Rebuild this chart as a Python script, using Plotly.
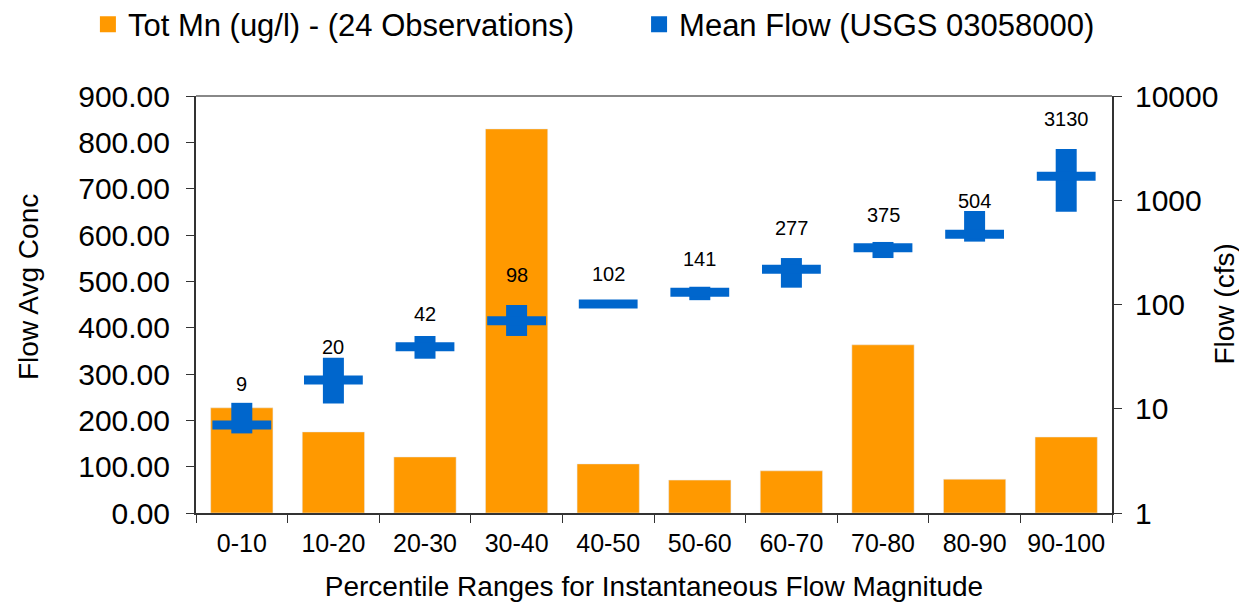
import math
import plotly.graph_objects as go

categories = ["0-10", "10-20", "20-30", "30-40", "40-50", "50-60", "60-70", "70-80", "80-90", "90-100"]
mn_conc = [227, 175, 121, 829, 106, 71, 91, 363, 73, 164]
flow_mid = [7.0, 18.9, 39.4, 70, 101, 131, 218, 351, 471, 1698]
flow_low = [5.8, 11.2, 30.2, 49.9, 99, 110, 145, 279, 401, 777]
flow_high = [11.4, 30.9, 49.9, 98.9, 103, 148, 279, 398, 789, 3103]
flow_labels = [9, 20, 42, 98, 102, 141, 277, 375, 504, 3130]

ORANGE = "#FF9900"
BLUE = "#0066CC"
FONT = "Arial, Liberation Sans, sans-serif"

fig = go.Figure()

fig.add_trace(go.Bar(
    x=categories, y=mn_conc, marker_color=ORANGE, width=0.68,
    showlegend=False, yaxis="y",
))

fig.add_trace(go.Scatter(
    x=categories, y=flow_mid, yaxis="y2", mode="markers", showlegend=False,
    marker=dict(symbol="line-ew", size=42, color=BLUE, line=dict(color=BLUE, width=9)),
    error_y=dict(
        type="data", symmetric=False,
        array=[h - m for h, m in zip(flow_high, flow_mid)],
        arrayminus=[m - l for m, l in zip(flow_mid, flow_low)],
        color=BLUE, thickness=21, width=0,
    ),
))

# legend entries (two separate legends so each can be placed)
fig.add_trace(go.Scatter(x=[None], y=[None], mode="markers", name="Tot Mn (ug/l) - (24 Observations)",
                         marker=dict(symbol="square", size=16, color=ORANGE), legend="legend"))
fig.add_trace(go.Scatter(x=[None], y=[None], mode="markers", name="Mean Flow (USGS 03058000)",
                         marker=dict(symbol="square", size=16, color=BLUE), legend="legend2"))

for cat, val in zip(categories, flow_labels):
    fig.add_annotation(x=cat, y=math.log10(val), xref="x", yref="y2", text=str(val),
                       showarrow=False, yshift=30, font=dict(size=20, color="black", family=FONT))

# axis titles
fig.add_annotation(x=-0.1823, y=0.542, xref="paper", yref="paper", text="Flow Avg Conc",
                   xanchor="center", yanchor="middle",
                   textangle=-90, showarrow=False, font=dict(size=28, family=FONT, color="black"))
fig.add_annotation(x=1.1223, y=0.5, xref="paper", yref="paper", text="Flow (cfs)",
                   xanchor="center", yanchor="middle",
                   textangle=-90, showarrow=False, font=dict(size=28, family=FONT, color="black"))

# top border of plot area
fig.add_shape(type="line", xref="paper", yref="paper", x0=0, x1=1, y0=1, y1=1,
              line=dict(color="#888888", width=2))

legend_style = dict(orientation="h", xanchor="left", y=1.171, yanchor="middle",
                    font=dict(size=31, family=FONT), bgcolor="rgba(0,0,0,0)")

# page body adds an 8px offset, margins compensate for it
fig.update_layout(
    width=1247, height=609,
    margin=dict(l=188, r=143, t=88, b=104, autoexpand=False),
    paper_bgcolor="white", plot_bgcolor="white",
    font=dict(family=FONT, color="black"),
    legend=dict(x=-0.118, **legend_style),
    legend2=dict(x=0.4837, **legend_style),
    xaxis=dict(
        type="category", tickson="boundaries", ticks="outside", ticklen=8, tickcolor="#333333",
        showline=True, linecolor="#333333", linewidth=2, showgrid=False,
        tickfont=dict(size=25), range=[-0.5, 9.5], ticklabelstandoff=7,
        title=dict(text="Percentile Ranges for Instantaneous Flow Magnitude", font=dict(size=28), standoff=20),
    ),
    yaxis=dict(
        range=[0, 900], dtick=100, tickformat=".2f", ticks="outside", ticklen=8, tickcolor="#333333",
        showline=True, linecolor="#333333", linewidth=2, showgrid=False, zeroline=False,
        tickfont=dict(size=30), ticklabelstandoff=10,
    ),
    yaxis2=dict(
        type="log", range=[0, 4], overlaying="y", side="right",
        tickvals=[1, 10, 100, 1000, 10000], ticktext=["1", "10", "100", "1000", "10000"],
        ticks="outside", ticklen=8, tickcolor="#333333",
        showline=True, linecolor="#333333", linewidth=2, showgrid=False, zeroline=False,
        tickfont=dict(size=30), ticklabelstandoff=7,
    ),
)

fig.write_html("out.html")
